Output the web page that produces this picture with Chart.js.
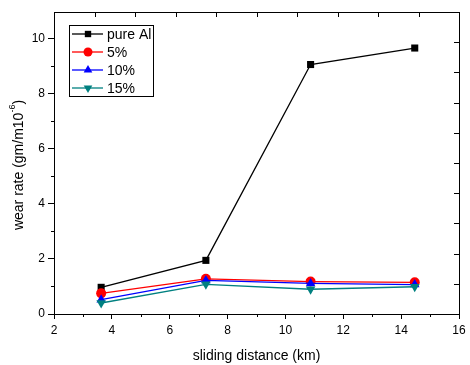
<!DOCTYPE html>
<html>
<head>
<meta charset="utf-8">
<script src="https://cdn.jsdelivr.net/npm/chart.js@4"></script>
<style>
  body { margin: 0; background: #fff; }
  #wrap { width: 470px; height: 365px; }
</style>
</head>
<body>
<div id="wrap"><canvas id="wearChart" width="470" height="365"></canvas></div>
<script>
// sliding distance (km)
const distances = [3.63, 7.25, 10.87, 14.47];
const seriesNames = ['pure Al', '5%', '10%', '15%'];
const pureAl = [0.97, 1.95, 9.07, 9.67];
const pct5 = [0.75, 1.28, 1.18, 1.15];
const pct10 = [0.52, 1.22, 1.11, 1.07];
const pct15 = [0.40, 1.08, 0.90, 0.99];
const xTicks = [2, 4, 6, 8, 10, 12, 14, 16];
const yTicks = [0, 2, 4, 6, 8, 10];

const FONT = "'Liberation Sans', Arial, sans-serif";

function toPoints(vals) {
    return vals.map((v, i) => ({ x: distances[i], y: v }));
}

function makeSet(label, vals, color, style, radius, rotation) {
    return {
        label: label,
        data: toPoints(vals),
        borderColor: color,
        backgroundColor: color,
        borderWidth: 1.3,
        pointStyle: style,
        pointRadius: radius,
        pointRotation: rotation || 0,
        pointBorderWidth: 0,
        pointHoverRadius: radius,
        tension: 0
    };
}

const datasets = [
    makeSet(seriesNames[3], pct15, '#008080', 'triangle', 5.5, 180),
    makeSet(seriesNames[2], pct10, '#0000ff', 'triangle', 5.5),
    makeSet(seriesNames[1], pct5, '#ff0000', 'circle', 5),
    makeSet(seriesNames[0], pureAl, '#000000', 'rect', 5)
];

// frame, minor ticks, inner ticks on top/right, legend box, axis titles
const decor = {
    id: 'decor',
    afterDraw(chart) {
        const ctx = chart.ctx;
        const a = chart.chartArea;
        const xs = chart.scales.x, ys = chart.scales.y;
        ctx.save();
        ctx.strokeStyle = '#000';
        ctx.lineWidth = 1;
        ctx.strokeRect(a.left + 0.5, a.top + 0.5, a.right - a.left, a.bottom - a.top);

        ctx.beginPath();
        // minor ticks bottom / left (outward)
        for (let v = 3; v < 16; v += 2) {
            const px = Math.round(xs.getPixelForValue(v)) + 0.5;
            ctx.moveTo(px, a.bottom); ctx.lineTo(px, a.bottom + 3);
        }
        for (let v = 1; v < 11; v += 2) {
            const py = Math.round(ys.getPixelForValue(v)) + 0.5;
            ctx.moveTo(a.left, py); ctx.lineTo(a.left - 3, py);
        }
        // top and right axes: 10 inward ticks each
        for (let i = 1; i < 10; i++) {
            const px = Math.round(a.left + (a.right - a.left) * i / 10) + 0.5;
            ctx.moveTo(px, a.top); ctx.lineTo(px, a.top + 5);
            const py = Math.round(a.bottom - (a.bottom - a.top) * i / 10) + 0.5;
            ctx.moveTo(a.right, py); ctx.lineTo(a.right - 5, py);
        }
        ctx.stroke();

        // legend
        const lx = a.left + 15, ly = a.top + 13;
        ctx.strokeRect(lx + 0.5, ly + 0.5, 84, 71);
        ctx.font = '14px ' + FONT;
        ctx.textBaseline = 'middle';
        ctx.textAlign = 'left';
        const order = [3, 2, 1, 0];
        order.forEach((di, row) => {
            const ds = chart.data.datasets[di];
            const y = ly + 9 + row * 18;
            ctx.strokeStyle = ds.borderColor;
            ctx.fillStyle = ds.backgroundColor;
            ctx.lineWidth = 1.3;
            ctx.beginPath();
            ctx.moveTo(lx + 3, y); ctx.lineTo(lx + 34, y);
            ctx.stroke();
            Chart.helpers.drawPoint(ctx, {
                pointStyle: ds.pointStyle, radius: ds.pointRadius - 0.5,
                rotation: ds.pointRotation, borderWidth: 0
            }, lx + 19, y);
            ctx.fillStyle = '#000';
            ctx.fillText(ds.label, lx + 38, y + 1);
        });

        // y title with superscript
        ctx.fillStyle = '#000';
        ctx.translate(19, (a.top + a.bottom) / 2 + 2);
        ctx.rotate(-Math.PI / 2);
        const main = 'wear rate (gm/m10', sup = '-6', end = ')';
        ctx.font = '14px ' + FONT;
        const w1 = ctx.measureText(main).width, w3 = ctx.measureText(end).width;
        ctx.font = '9px ' + FONT;
        const w2 = ctx.measureText(sup).width;
        let x0 = -(w1 + w2 + w3) / 2;
        ctx.font = '14px ' + FONT;
        ctx.fillText(main, x0, 0);
        ctx.font = '9px ' + FONT;
        ctx.fillText(sup, x0 + w1, -6);
        ctx.font = '14px ' + FONT;
        ctx.fillText(end, x0 + w1 + w2, 0);
        ctx.restore();
    }
};

new Chart(document.getElementById('wearChart'), {
    type: 'line',
    data: { datasets: datasets },
    options: {
        responsive: false,
        animation: false,
        layout: { padding: { top: 12, right: 11, left: 0, bottom: 0 } },
        plugins: { legend: { display: false }, tooltip: { enabled: false } },
        scales: {
            x: {
                type: 'linear',
                min: 2, max: 16,
                afterBuildTicks: s => { s.ticks = xTicks.map(v => ({ value: v })); },
                afterFit: s => { s.height = 51; },
                ticks: { color: '#000', font: { family: FONT, size: 12 }, padding: 4, maxRotation: 0 },
                grid: { drawOnChartArea: false, drawTicks: true, tickLength: 5, color: '#000' },
                border: { display: true, color: '#000' },
                title: { display: true, text: 'sliding distance (km)', color: '#000',
                         font: { family: FONT, size: 14 }, padding: { top: 2, bottom: 0 } }
            },
            y: {
                type: 'linear',
                min: 0, max: 10.98,
                afterBuildTicks: s => { s.ticks = yTicks.map(v => ({ value: v })); },
                afterFit: s => { s.width = 54; },
                ticks: { color: '#000', font: { family: FONT, size: 12 }, padding: 3 },
                grid: { drawOnChartArea: false, drawTicks: true, tickLength: 6, color: '#000' },
                border: { display: true, color: '#000' }
            }
        }
    },
    plugins: [decor]
});
</script>
</body>
</html>
